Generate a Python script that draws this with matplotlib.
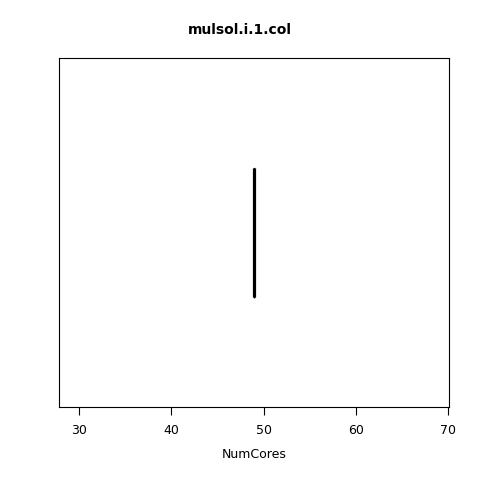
import matplotlib
matplotlib.use("Agg")
import matplotlib.pyplot as plt

title = "mulsol.i.1.col"
xlabel = "NumCores"
values = [49, 49, 49, 49]
xticks = [30, 40, 50, 60, 70]

fig = plt.figure(figsize=(4.8, 4.8), dpi=100)
ax = fig.add_axes([59/480, 73/480, 390/480, 349/480])
ax.boxplot([values], vert=False, positions=[0.5], widths=0.37,
           medianprops=dict(color="black", linewidth=2.3),
           boxprops=dict(color="black", linewidth=1),
           whiskerprops=dict(color="black", linestyle="--"),
           capprops=dict(color="black"), showfliers=False)
ax.set_xlim(27.83, 70.1)
ax.set_ylim(0, 1)
ax.set_yticks([])
ax.set_xticks(xticks)
ax.set_xticklabels([str(t) for t in xticks], fontsize=9)
ax.tick_params(axis="x", length=6, pad=6)
for s in ax.spines.values():
    s.set_linewidth(0.8)
ax.set_xlabel(xlabel, fontsize=9, labelpad=8)
fig.text(0.5, 1 - 30/480, title, ha="center", va="center", fontsize=10, fontweight="bold")
fig.savefig("out.png", dpi=100)
